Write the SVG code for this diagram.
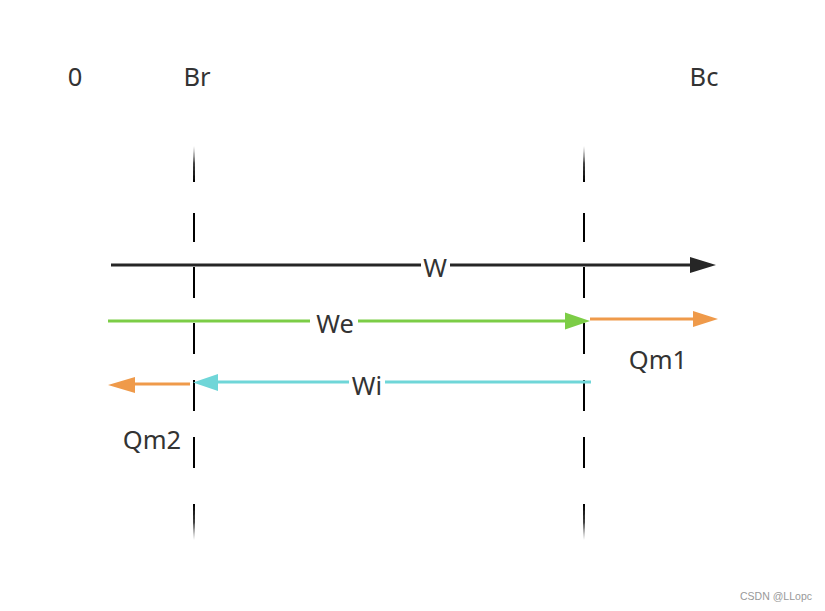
<svg xmlns="http://www.w3.org/2000/svg" width="825" height="611" viewBox="0 0 825 611">
<defs>
<linearGradient id="fadeUp" x1="0" y1="1" x2="0" y2="0"><stop offset="0" stop-color="#000"/><stop offset="0.5" stop-color="#000"/><stop offset="1" stop-color="#000" stop-opacity="0"/></linearGradient>
<linearGradient id="fadeDown" x1="0" y1="0" x2="0" y2="1"><stop offset="0" stop-color="#000"/><stop offset="0.5" stop-color="#000"/><stop offset="1" stop-color="#000" stop-opacity="0"/></linearGradient>
</defs>
<style>
.t{font-family:"Noto Sans","Open Sans","Liberation Sans",sans-serif;font-size:25.5px;fill:#333;text-anchor:middle}
.d{stroke:#000;stroke-width:2;fill:none}
.bg{fill:#fff}
</style>
<rect width="825" height="611" fill="#fff"/>
<g id="axis-labels">
<text class="t" x="75" y="86">0</text>
<text class="t" x="197" y="86">Br</text>
<text class="t" x="704" y="86">Bc</text>
</g>
<g id="boundary-Br">
<polygon points="193,182 195,182 194.5,146 193.5,146" fill="url(#fadeUp)"/>
<path class="d" d="M194 213V242M194 267V298M194 323V354M194 380V411M194 437V468"/>
<polygon points="193,504 195,504 194.5,540 193.5,540" fill="url(#fadeDown)"/>
</g>
<g id="boundary-Bc">
<polygon points="583,182 585,182 584.5,146 583.5,146" fill="url(#fadeUp)"/>
<path class="d" d="M584 213V242M584 267V298M584 323V354M584 380V411M584 437V468"/>
<polygon points="583,504 585,504 584.5,540 583.5,540" fill="url(#fadeDown)"/>
</g>
<g id="connectors">
<line x1="111" y1="265" x2="692" y2="265" stroke="#262626" stroke-width="3"/>
<polygon points="690,257 716,265 690,273" fill="#262626"/>
<line x1="108" y1="321" x2="567" y2="321" stroke="#7ccd46" stroke-width="3"/>
<polygon points="565,312.5 590,321 565,329.5" fill="#7ccd46"/>
<line x1="590" y1="319" x2="695" y2="319" stroke="#ef9a4a" stroke-width="3"/>
<polygon points="693,311 718,319 693,327" fill="#ef9a4a"/>
<line x1="591" y1="382" x2="216" y2="382" stroke="#6fd6d8" stroke-width="3"/>
<polygon points="218,374 193,382.5 218,391" fill="#6fd6d8"/>
<line x1="190" y1="384" x2="133" y2="384" stroke="#ef9a4a" stroke-width="3"/>
<polygon points="135,377 108,385 135,393" fill="#ef9a4a"/>
</g>
<g id="label-W">
<rect class="bg" x="421" y="255" width="29" height="22"/>
<text class="t" x="435" y="277">W</text>
</g>
<g id="label-We">
<rect class="bg" x="310" y="311" width="48" height="22"/>
<text class="t" x="335" y="333">We</text>
</g>
<g id="label-Wi">
<rect class="bg" x="349" y="372" width="36" height="22"/>
<text class="t" x="367" y="395">Wi</text>
</g>
<g id="label-Qm1"><text class="t" x="658" y="369">Qm1</text></g>
<g id="label-Qm2"><text class="t" x="152" y="449">Qm2</text></g>
<text x="776" y="600" font-family="Liberation Sans,Arial,sans-serif" font-size="10.5" fill="#999" text-anchor="middle">CSDN @LLopc</text>
</svg>
